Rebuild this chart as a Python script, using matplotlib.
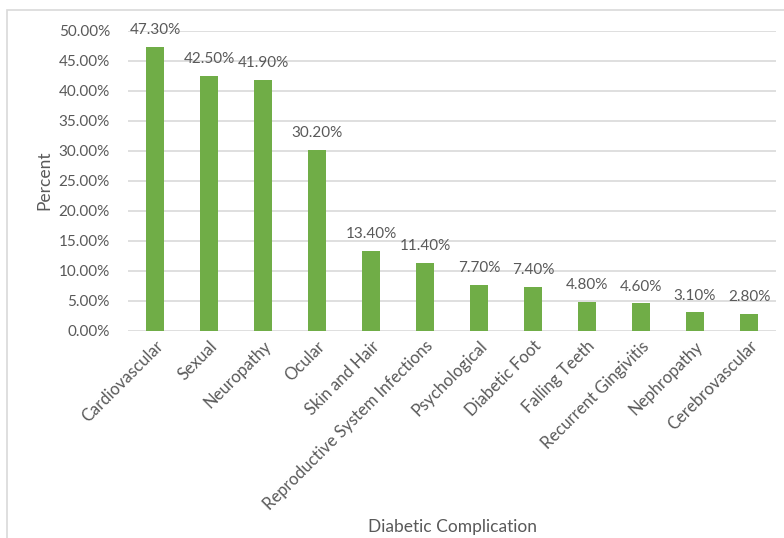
import matplotlib
matplotlib.use("Agg")
import matplotlib.pyplot as plt
from matplotlib.patches import Rectangle
from matplotlib.ticker import FuncFormatter

plt.rcParams['font.family'] = ['Lato', 'DejaVu Sans']

categories = ["Cardiovascular", "Sexual", "Neuropathy", "Ocular", "Skin and Hair",
              "Reproductive System Infections", "Psychological", "Diabetic Foot",
              "Falling Teeth", "Recurrent Gingivitis", "Nephropathy", "Cerebrovascular"]
percent = [47.30, 42.50, 41.90, 30.20, 13.40, 11.40, 7.70, 7.40, 4.80, 4.60, 3.10, 2.80]
y_ticks = [0, 5, 10, 15, 20, 25, 30, 35, 40, 45, 50]

W, H = 784, 538
fig = plt.figure(figsize=(W / 100, H / 100), dpi=100)
ax = fig.add_axes([128 / W, 1 - 331 / H, (776 - 128) / W, 300 / H])

text_col = "#595959"
grid_col = "#d9d9d9"
bar_col = "#70ad47"

x = list(range(len(categories)))
ax.bar(x, percent, width=1 / 3, color=bar_col, zorder=3)
ax.set_xlim(-0.5, len(categories) - 0.5)
ax.set_ylim(0, 50)
ax.set_yticks(y_ticks)
ax.yaxis.set_major_formatter(FuncFormatter(lambda v, p: f"{v:.2f}%"))
ax.grid(axis="y", color=grid_col, linewidth=1.2, zorder=0)
for s in ax.spines.values():
    s.set_visible(False)
ax.tick_params(axis="both", length=0, colors=text_col)
ax.tick_params(axis="y", pad=13, labelsize=11)
ax.set_xticks(x)
ax.set_xticklabels(categories, rotation=45, ha="right", va="top",
                   rotation_mode="anchor")
ax.tick_params(axis="x", pad=5, labelsize=12)

for xi, v in zip(x, percent):
    ax.annotate(f"{v:.2f}%", (xi, v), xytext=(0, 7), textcoords="offset points",
                ha="center", va="bottom", color=text_col, fontsize=11)

fig.text(44 / W, 1 - 180 / H, "Percent", rotation=90, ha="center", va="center",
         color=text_col, fontsize=12.5)
fig.text(452 / W, 1 - 527 / H, "Diabetic Complication", ha="center", va="center",
         color=text_col, fontsize=12.5)

# chart area frame
fig.patches.append(Rectangle((7 / W, -0.1), 1.2, 1 - 10 / H + 0.1,
                             transform=fig.transFigure, fill=False,
                             edgecolor=grid_col, linewidth=1.2))

fig.savefig("out.png", dpi=100)
